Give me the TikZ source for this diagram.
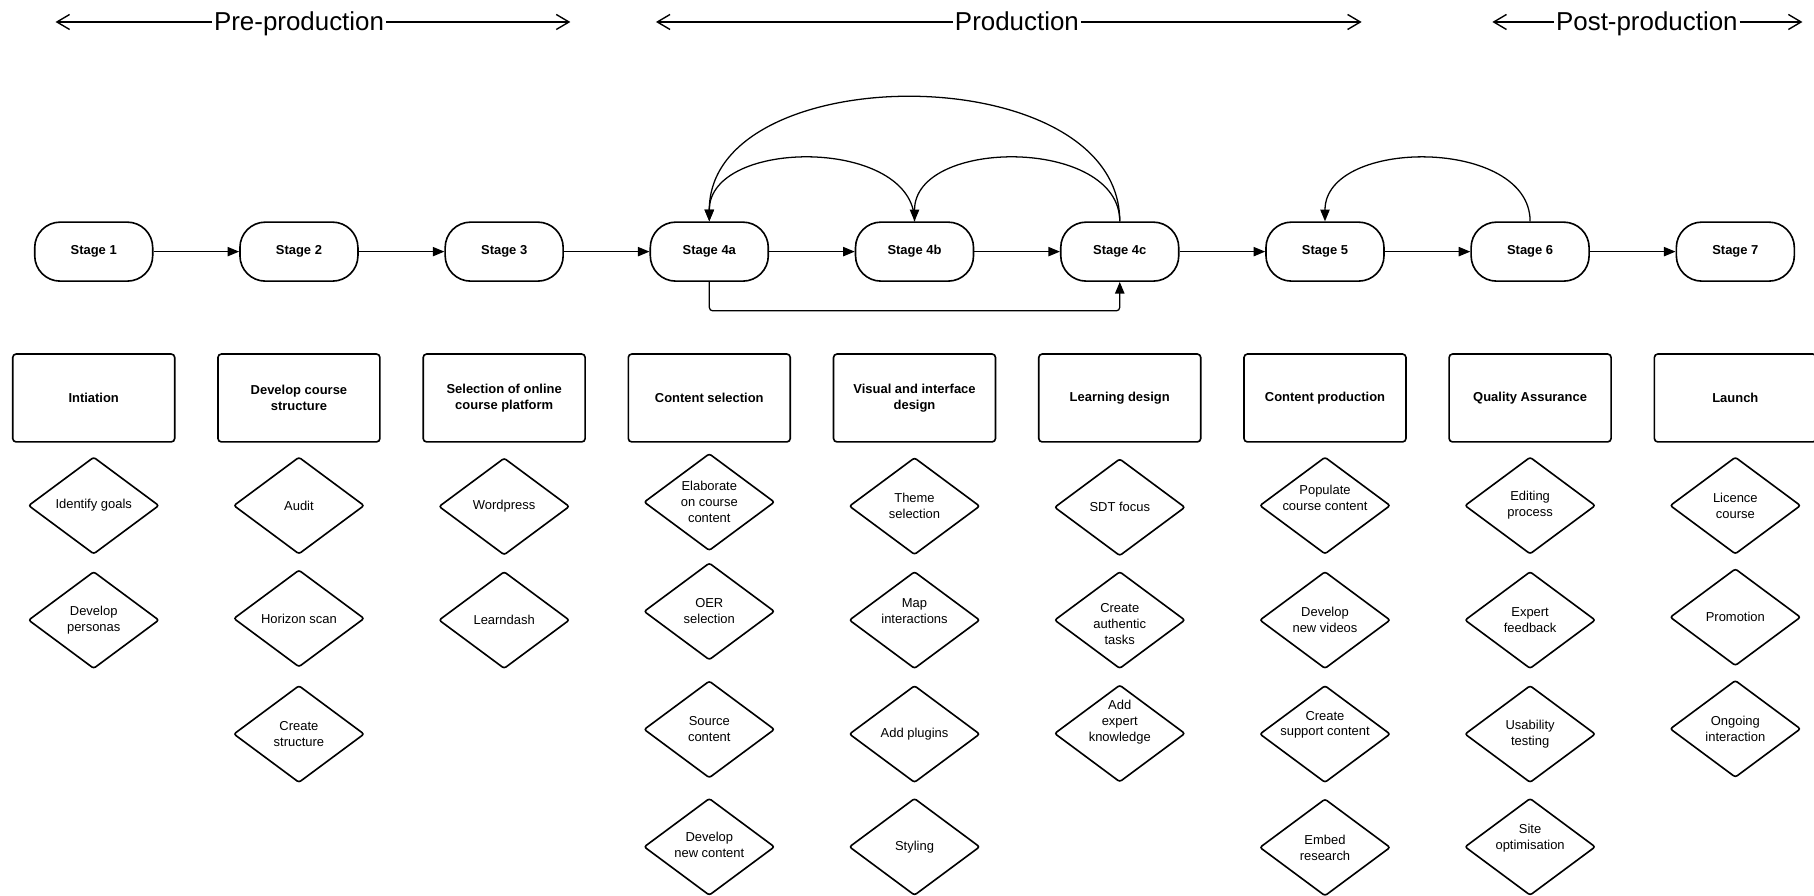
\documentclass[tikz,border=0pt]{standalone}
\usepackage{fontspec}
\setmainfont{Liberation Sans}
\usetikzlibrary{arrows.meta,shapes.geometric}
\begin{document}
\begin{tikzpicture}[x=1pt,y=-1pt,
  stage/.style={draw,line width=1.4pt,rounded corners=22pt,minimum width=102pt,
    minimum height=51pt,inner sep=0pt,font=\fontsize{11.2}{13.8}\selectfont\bfseries},
  phase/.style={draw,line width=1.4pt,rounded corners=3pt,minimum width=140pt,
    minimum height=76pt,inner sep=0pt,align=center,font=\fontsize{11.2}{13.8}\selectfont\bfseries},
  task/.style={draw,shape=diamond,line width=1.4pt,rounded corners=2pt,
    minimum width=113pt,minimum height=84pt,inner sep=0pt},
  tasktext/.style={align=center,inner sep=0pt,font=\fontsize{11.2}{13.8}\selectfont},
  flow/.style={line width=1.1pt,-{Triangle[length=10pt,width=8pt]}},
  span/.style={line width=1.2pt,>={Straight Barb[length=11pt,width=13pt]}},
  phasehead/.style={anchor=base,inner xsep=1.5pt,inner ysep=0pt,font=\fontsize{22.4}{26}\selectfont}
]
\useasboundingbox (0,0) rectangle (1568,774);

% ---- phase headings ----
\coordinate (preL) at (48,19);   \coordinate (preR) at (493,19);
\coordinate (proL) at (567,19);  \coordinate (proR) at (1177,19);
\coordinate (postL) at (1290,19); \coordinate (postR) at (1558,19);
\node[phasehead] (pre)  at (258.5,26.5)  {Pre-production};
\node[phasehead] (pro)  at (879,26.5)    {Production};
\node[phasehead] (post) at (1423.5,26.5) {Post-production};
\draw[span,<-] (preL) -- (pre.west |- preL);
\draw[span,->] (pre.east |- preR) -- (preR);
\draw[span,<-] (proL) -- (pro.west |- proL);
\draw[span,->] (pro.east |- proR) -- (proR);
\draw[span,<-] (postL) -- (post.west |- postL);
\draw[span,->] (post.east |- postR) -- (postR);

% ---- stages ----
\node[stage] (s1)  at (81,217.5)    {Stage 1};
\node[stage] (s2)  at (258.4,217.5) {Stage 2};
\node[stage] (s3)  at (435.8,217.5) {Stage 3};
\node[stage] (s4a) at (613.1,217.5) {Stage 4a};
\node[stage] (s4b) at (790.5,217.5) {Stage 4b};
\node[stage] (s4c) at (967.9,217.5) {Stage 4c};
\node[stage] (s5)  at (1145.3,217.5) {Stage 5};
\node[stage] (s6)  at (1322.6,217.5) {Stage 6};
\node[stage] (s7)  at (1500,217.5)  {Stage 7};

\draw[flow] (s1) -- (s2);
\draw[flow] (s2) -- (s3);
\draw[flow] (s3) -- (s4a);
\draw[flow] (s4a) -- (s4b);
\draw[flow] (s4b) -- (s4c);
\draw[flow] (s4c) -- (s5);
\draw[flow] (s5) -- (s6);
\draw[flow] (s6) -- (s7);

% feedback loops
\draw[flow] (s4b.north) to[out=90,in=90,looseness=1.05] (s4a.north);
\draw[flow] (s4c.north) to[out=90,in=90,looseness=1.05] (s4b.north);
\draw[flow] (s4c.north) to[out=90,in=90,looseness=1.03] (s4a.north);
\draw[flow] (s6.north)  to[out=90,in=90,looseness=1.05] (s5.north);
\draw[flow,rounded corners=3pt] (s4a.south) -- ++(0,25) -| (s4c.south);

% ---- phase boxes ----
\node[phase] (b1)  at (81,344)     {Intiation};
\node[phase] (b2)  at (258.4,344)  {Develop course\\structure};
\node[phase] (b3)  at (435.8,344)  {Selection of online\\course platform};
\node[phase] (b4a) at (613.1,344)  {Content selection};
\node[phase] (b4b) at (790.5,344)  {Visual and interface\\design};
\node[phase] (b4c) at (967.9,344)  {Learning design};
\node[phase] (b5)  at (1145.3,344) {Content production};
\node[phase] (b6)  at (1322.6,344) {Quality Assurance};
\node[phase] (b7)  at (1500,344)   {Launch};

% ---- tasks ----
% Stage 1
\node[task,label={[tasktext]center:{Identify goals}}] (t1a) at (81,437) {};
\node[task,label={[tasktext]center:{Develop\\personas}}] (t1b) at (81,536) {};
% Stage 2
\node[task,label={[tasktext]center:{Audit}}] (t2a) at (258.4,437) {};
\node[task,label={[tasktext]center:{Horizon scan}}] (t2b) at (258.4,534.6) {};
\node[task,label={[tasktext]center:{Create\\structure}}] (t2c) at (258.4,634.5) {};
% Stage 3
\node[task,label={[tasktext]center:{Wordpress}}] (t3a) at (435.8,437.8) {};
\node[task,label={[tasktext]center:{Learndash}}] (t3b) at (435.8,536) {};
% Stage 4a
\node[task,label={[tasktext]center:{Elaborate\\on course\\content}}] (t4aa) at (613.1,434) {};
\node[task,label={[tasktext]center:{OER\\selection}}] (t4ab) at (613.1,528.5) {};
\node[task,label={[tasktext]center:{Source\\content}}] (t4ac) at (613.1,630.5) {};
\node[task,label={[tasktext,yshift=2pt]center:{Develop\\new content}}] (t4ad) at (613.1,732) {};
% Stage 4b
\node[task,label={[tasktext]center:{Theme\\selection}}] (t4ba) at (790.5,437.5) {};
\node[task,label={[tasktext,yshift=7.6pt]center:{Map\\interactions}}] (t4bb) at (790.5,536) {};
\node[task,label={[tasktext]center:{Add plugins}}] (t4bc) at (790.5,634.5) {};
\node[task,label={[tasktext]center:{Styling}}] (t4bd) at (790.5,732) {};
% Stage 4c
\node[task,label={[tasktext]center:{SDT focus}}] (t4ca) at (967.9,438.5) {};
\node[task,label={[tasktext,yshift=-3.5pt]center:{Create\\authentic\\tasks}}] (t4cb) at (967.9,536) {};
\node[task,label={[tasktext,yshift=9.5pt]center:{Add\\expert\\knowledge}}] (t4cc) at (967.9,634) {};
% Stage 5
\node[task,label={[tasktext,yshift=6.8pt]center:{Populate\\course content}}] (t5a) at (1145.3,437) {};
\node[task,label={[tasktext]center:{Develop\\new videos}}] (t5b) at (1145.3,536) {};
\node[task,label={[tasktext,yshift=8pt]center:{Create\\support content}}] (t5c) at (1145.3,634.5) {};
\node[task,label={[tasktext]center:{Embed\\research}}] (t5d) at (1145.3,732.5) {};
% Stage 6
\node[task,label={[tasktext]center:{Editing\\process}}] (t6a) at (1322.6,437) {};
\node[task,label={[tasktext]center:{Expert\\feedback}}] (t6b) at (1322.6,536) {};
\node[task,label={[tasktext]center:{Usability\\testing}}] (t6c) at (1322.6,634.5) {};
\node[task,label={[tasktext,yshift=7.5pt]center:{Site\\optimisation}}] (t6d) at (1322.6,732) {};
% Stage 7
\node[task,label={[tasktext]center:{Licence\\course}}] (t7a) at (1500,437) {};
\node[task,label={[tasktext]center:{Promotion}}] (t7b) at (1500,533.5) {};
\node[task,label={[tasktext]center:{Ongoing\\interaction}}] (t7c) at (1500,630) {};
\end{tikzpicture}
\end{document}
